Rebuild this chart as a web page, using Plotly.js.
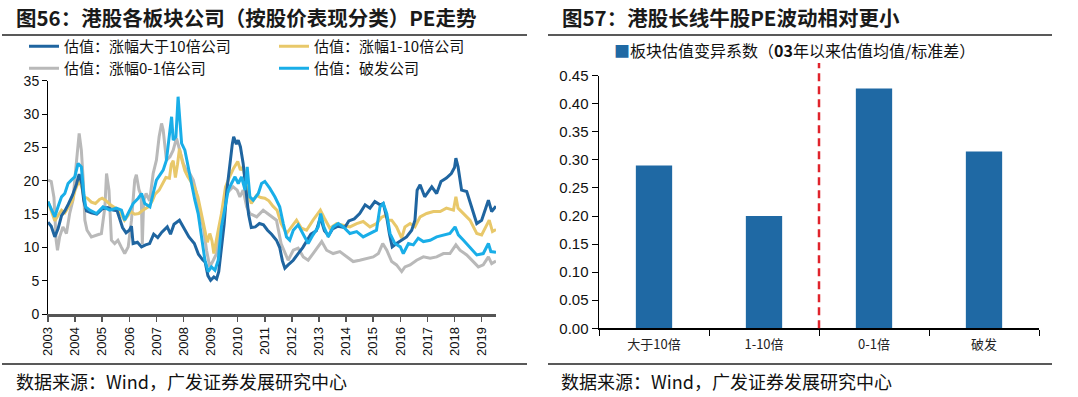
<!DOCTYPE html>
<html><head><meta charset="utf-8">
<script src="https://cdn.plot.ly/plotly-3.0.1.min.js"></script>
<style>html,body{margin:0;padding:0;background:#fff;overflow:hidden}#chart{width:1078px;height:397px}</style>
</head><body><div id="chart"></div>
<script>
// ---- Left chart: PE by stock-performance group (decimal year, PE) ----
const bigX=[2003.00,2003.12,2003.25,2003.37,2003.5,2003.62,2003.75,2003.9,2004.05,2004.15,2004.25,2004.32,2004.42,2004.6,2004.8,2005.0,2005.2,2005.4,2005.55,2005.65,2005.75,2005.88,2006.0,2006.08,2006.14,2006.3,2006.45,2006.6,2006.75,2006.9,2007.05,2007.2,2007.4,2007.52,2007.65,2007.85,2008.0,2008.2,2008.4,2008.55,2008.7,2008.8,2008.9,2009.0,2009.12,2009.22,2009.3,2009.4,2009.5,2009.6,2009.7,2009.8,2009.85,2009.95,2010.02,2010.1,2010.2,2010.3,2010.4,2010.5,2010.65,2010.8,2010.95,2011.1,2011.25,2011.43,2011.55,2011.65,2011.74,2011.86,2012.05,2012.23,2012.4,2012.55,2012.7,2012.9,2013.05,2013.2,2013.35,2013.5,2013.7,2013.95,2014.1,2014.3,2014.5,2014.7,2014.88,2015.06,2015.25,2015.37,2015.5,2015.6,2015.7,2015.86,2016.05,2016.23,2016.42,2016.54,2016.62,2016.73,2016.9,2017.05,2017.16,2017.34,2017.5,2017.7,2017.88,2018.0,2018.05,2018.13,2018.26,2018.45,2018.64,2018.82,2019.0,2019.13,2019.25,2019.37,2019.53];
const bigY=[13.8,13.2,11.6,12.8,14.8,15.5,16.5,17.8,19.5,21.0,19.5,17.0,15.5,15.2,15.0,15.8,16.0,15.6,15.5,14.2,13.0,12.2,12.6,13.2,10.6,10.8,10.1,10.4,10.6,12.0,11.5,12.3,13.1,12.0,13.5,14.1,13.1,11.6,10.6,9.0,8.2,7.8,5.8,5.1,5.6,5.3,6.4,10.0,13.5,18.6,22.5,25.5,26.6,25.5,26.1,25.1,22.6,18.5,15.0,13.0,13.1,13.6,13.4,12.6,12.0,11.1,10.0,8.0,6.9,7.4,8.1,9.1,10.0,11.0,12.0,12.5,14.5,12.5,11.8,12.8,13.2,13.0,14.0,14.3,15.1,16.4,15.9,16.9,16.4,16.6,14.5,12.0,10.1,10.6,11.1,11.6,12.6,14.1,18.6,19.4,17.6,18.5,19.1,18.1,19.9,20.4,21.1,22.0,23.4,22.1,18.6,18.4,16.1,13.6,14.1,15.6,17.1,15.4,16.2];

const midX=[2003.0,2003.12,2003.25,2003.37,2003.5,2003.62,2003.75,2003.9,2004.0,2004.15,2004.25,2004.32,2004.45,2004.6,2004.75,2004.9,2005.0,2005.15,2005.3,2005.45,2005.6,2005.72,2005.82,2005.95,2006.05,2006.2,2006.35,2006.5,2006.7,2006.85,2006.95,2007.1,2007.2,2007.35,2007.48,2007.55,2007.62,2007.7,2007.78,2007.85,2007.95,2008.05,2008.16,2008.3,2008.4,2008.53,2008.65,2008.77,2008.88,2008.97,2009.05,2009.12,2009.2,2009.3,2009.4,2009.55,2009.7,2009.85,2010.0,2010.1,2010.2,2010.35,2010.5,2010.7,2010.85,2011.0,2011.15,2011.3,2011.45,2011.6,2011.8,2011.98,2012.17,2012.35,2012.54,2012.78,2012.95,2013.05,2013.2,2013.4,2013.65,2013.9,2014.14,2014.39,2014.63,2014.88,2015.12,2015.3,2015.45,2015.55,2015.68,2015.86,2016.05,2016.17,2016.36,2016.54,2016.73,2016.97,2017.22,2017.47,2017.7,2017.96,2018.05,2018.13,2018.33,2018.57,2018.82,2019.0,2019.19,2019.28,2019.4,2019.53];
const midY=[16.9,15.5,14.0,14.8,15.6,15.2,16.1,17.0,18.6,20.1,19.0,17.6,17.4,16.8,16.6,17.2,17.4,17.0,16.4,16.0,15.6,14.8,14.1,14.8,15.4,15.0,15.1,15.6,16.1,17.0,18.0,18.6,19.4,20.5,20.4,22.5,23.0,20.5,22.5,24.8,23.0,21.5,20.6,19.8,19.1,17.6,15.1,12.6,10.8,12.1,11.0,9.1,11.1,13.0,15.1,19.1,20.6,21.9,22.9,21.6,22.1,18.6,16.6,17.8,17.5,17.4,17.0,16.2,15.6,13.6,12.1,13.1,14.1,12.9,12.6,14.1,15.0,15.6,14.4,12.9,13.6,13.4,13.1,13.6,13.9,13.1,13.6,14.5,14.8,14.1,14.1,13.1,11.4,13.1,13.6,13.1,14.6,15.1,15.4,15.4,15.9,15.6,17.6,15.9,15.1,14.1,12.1,11.9,13.4,14.1,12.4,12.7];

const lowX=[2003.0,2003.12,2003.22,2003.3,2003.35,2003.43,2003.55,2003.68,2003.8,2003.92,2004.03,2004.1,2004.15,2004.23,2004.3,2004.36,2004.44,2004.6,2004.79,2004.97,2005.1,2005.16,2005.25,2005.34,2005.46,2005.58,2005.7,2005.83,2005.96,2006.08,2006.2,2006.26,2006.36,2006.44,2006.48,2006.53,2006.62,2006.75,2006.88,2007.0,2007.1,2007.19,2007.25,2007.37,2007.5,2007.62,2007.74,2007.86,2007.99,2008.1,2008.23,2008.36,2008.48,2008.6,2008.73,2008.85,2008.97,2009.1,2009.22,2009.34,2009.46,2009.59,2009.71,2009.83,2009.98,2010.08,2010.2,2010.33,2010.45,2010.7,2010.94,2011.18,2011.43,2011.6,2011.74,2011.86,2012.05,2012.23,2012.42,2012.6,2012.78,2012.97,2013.1,2013.28,2013.52,2013.77,2014.02,2014.26,2014.5,2014.75,2015.0,2015.19,2015.35,2015.5,2015.68,2015.86,2016.05,2016.17,2016.36,2016.6,2016.85,2017.1,2017.34,2017.59,2017.83,2018.05,2018.2,2018.45,2018.7,2018.88,2019.06,2019.25,2019.37,2019.53];
const lowY=[20.1,19.9,17.5,11.1,9.6,11.6,13.1,12.1,15.1,17.1,22.0,25.1,27.1,24.6,20.1,14.1,12.6,11.6,11.9,12.1,16.1,21.1,18.6,11.1,10.6,11.1,10.1,9.1,10.1,14.1,20.1,20.9,18.6,17.8,10.5,17.0,18.1,17.0,21.1,23.1,26.6,28.6,27.6,23.1,23.6,24.6,26.4,24.6,22.6,21.6,21.1,20.1,18.1,15.1,13.1,9.6,7.1,8.1,9.1,13.1,16.1,18.1,18.6,19.1,18.6,17.6,18.6,16.1,15.1,14.6,15.6,14.9,14.1,10.6,9.1,8.1,9.6,9.9,8.6,8.1,9.1,10.1,10.9,9.6,9.1,9.4,8.6,7.9,8.1,8.4,8.6,9.1,10.6,9.6,7.9,7.4,6.4,7.1,7.4,8.1,8.6,8.4,8.6,9.1,9.1,10.4,9.6,8.9,7.9,7.1,7.4,8.6,7.6,8.0];

const brkX=[2003.0,2003.12,2003.25,2003.37,2003.5,2003.62,2003.74,2003.86,2003.99,2004.11,2004.23,2004.32,2004.39,2004.54,2004.79,2005.03,2005.28,2005.52,2005.71,2005.83,2005.96,2006.14,2006.33,2006.45,2006.57,2006.76,2006.88,2007.0,2007.25,2007.37,2007.5,2007.56,2007.62,2007.72,2007.8,2007.86,2007.93,2008.05,2008.17,2008.3,2008.42,2008.54,2008.67,2008.79,2008.91,2009.03,2009.16,2009.28,2009.4,2009.53,2009.65,2009.77,2009.9,2010.02,2010.14,2010.27,2010.35,2010.45,2010.57,2010.76,2010.88,2011.0,2011.18,2011.37,2011.55,2011.68,2011.8,2011.92,2012.05,2012.23,2012.42,2012.6,2012.78,2012.97,2013.06,2013.18,2013.34,2013.52,2013.71,2013.9,2014.14,2014.39,2014.63,2014.88,2015.12,2015.25,2015.37,2015.5,2015.62,2015.8,2016.0,2016.11,2016.3,2016.48,2016.66,2016.85,2017.1,2017.34,2017.59,2017.83,2018.02,2018.14,2018.33,2018.57,2018.82,2019.06,2019.25,2019.34,2019.53];
const brkY=[16.9,15.9,14.6,16.1,17.6,18.1,19.6,20.1,20.6,22.6,22.1,18.1,16.1,15.6,15.1,16.1,15.6,15.9,15.6,14.1,15.1,16.6,17.4,18.1,16.6,16.1,18.1,20.1,21.6,23.1,27.6,29.6,26.1,26.6,32.6,29.1,25.6,24.6,22.1,19.1,17.1,15.1,11.1,8.1,6.4,7.1,6.6,8.1,13.1,16.1,18.6,19.6,20.6,19.6,20.6,18.6,22.1,17.6,17.1,18.1,19.6,19.9,18.9,17.6,16.1,13.6,11.6,11.1,12.6,13.4,11.9,10.6,11.9,13.1,15.1,13.1,11.6,13.1,13.6,13.1,12.1,12.4,11.6,12.1,12.6,16.1,16.6,15.1,12.1,10.6,10.1,9.1,10.6,10.4,11.4,10.9,11.1,11.6,11.9,12.1,13.1,11.9,11.1,10.1,8.9,9.1,10.6,9.4,9.3];

const yearTicks=[2003,2004,2005,2006,2007,2008,2009,2010,2011,2012,2013,2014,2015,2016,2017,2018,2019];
const yearLabels=yearTicks.map(String);

// ---- Right chart: coefficient of variation ----
const barCats=['大于10倍','1-10倍','0-1倍','破发'];
const barVals=[0.290,0.200,0.427,0.315];

const W=1078,H=397;
const px=x=>x/W, py=y=>1-y/H;
const CJK='"Noto Sans CJK SC", "Noto Sans", sans-serif';
const NUM='"Liberation Sans", Arial, sans-serif';

const traces=[
 {type:'scatter',mode:'lines',x:lowX,y:lowY,name:'估值：涨幅0-1倍公司',legend:'legend2',line:{color:'#B9B9B9',width:3},xaxis:'x',yaxis:'y'},
 {type:'scatter',mode:'lines',x:midX,y:midY,name:'估值：涨幅1-10倍公司',legend:'legend',line:{color:'#E8C86A',width:3},xaxis:'x',yaxis:'y'},
 {type:'scatter',mode:'lines',x:bigX,y:bigY,name:'估值：涨幅大于10倍公司',legend:'legend',line:{color:'#1F65A0',width:3},xaxis:'x',yaxis:'y'},
 {type:'scatter',mode:'lines',x:brkX,y:brkY,name:'估值：破发公司',legend:'legend2',line:{color:'#19AEE8',width:3},xaxis:'x',yaxis:'y'},
 {type:'bar',x:barCats,y:barVals,name:'板块估值变异系数（03年以来估值均值/标准差）',showlegend:false,marker:{color:'#1F69A4'},width:0.33,xaxis:'x2',yaxis:'y2'}
];

const legBase={orientation:'h',xanchor:'left',yanchor:'middle',entrywidth:205,itemwidth:30,
  font:{family:CJK,size:15,color:'#111'},bgcolor:'rgba(0,0,0,0)',borderwidth:0,tracegroupgap:0};

const layout={
 width:W,height:H,margin:{l:0,r:0,t:0,b:0},paper_bgcolor:'#fff',plot_bgcolor:'#fff',showlegend:true,
 legend:Object.assign({},legBase,{x:px(24),y:py(46.5),traceorder:'reversed'}),
 legend2:Object.assign({},legBase,{x:px(24),y:py(68.5),traceorder:'normal'}),
 xaxis:{domain:[px(48),px(496)],range:[2003,2019.53],tickmode:'array',tickvals:yearTicks,ticktext:yearLabels,tickangle:-90,
   ticks:'outside',ticklen:5,tickwidth:1.5,tickcolor:'#555',showline:true,linecolor:'#555',linewidth:2.5,showgrid:false,zeroline:false,
   tickfont:{family:NUM,size:13,color:'#111'},anchor:'y',fixedrange:true},
 yaxis:{domain:[py(314.3),py(80.7)],range:[0,35],dtick:5,ticks:'outside',ticklen:5,tickcolor:'#000',showline:true,linecolor:'#000',linewidth:1,
   showgrid:false,zeroline:false,tickfont:{family:NUM,size:14,color:'#111'},anchor:'x',fixedrange:true},
 xaxis2:{domain:[px(599),px(1039)],range:[-0.5,3.5],type:'category',ticks:'outside',tickson:'boundaries',ticklen:6,tickcolor:'#000',
   ticklabelstandoff:4,showline:true,linecolor:'#000',linewidth:1.5,showgrid:false,zeroline:false,tickfont:{family:CJK,size:13,color:'#222'},anchor:'y2',fixedrange:true},
 yaxis2:{domain:[py(328.3),py(75.7)],range:[0,0.45],dtick:0.05,tickformat:'.2f',ticks:'outside',ticklen:6,tickcolor:'#000',showline:true,
   linecolor:'#000',linewidth:1.5,showgrid:false,zeroline:false,tickfont:{family:NUM,size:15,color:'#111'},anchor:'x2',fixedrange:true},
 shapes:[
  {type:'line',xref:'paper',yref:'paper',x0:px(2),x1:px(527),y0:py(35),y1:py(35),line:{color:'#222',width:1.5}},
  {type:'line',xref:'paper',yref:'paper',x0:px(548),x1:px(1052),y0:py(35),y1:py(35),line:{color:'#222',width:1.5}},
  {type:'line',xref:'paper',yref:'paper',x0:px(2),x1:px(527),y0:py(364),y1:py(364),line:{color:'#222',width:1.5}},
  {type:'line',xref:'paper',yref:'paper',x0:px(548),x1:px(1052),y0:py(364),y1:py(364),line:{color:'#222',width:1.5}},
  {type:'line',xref:'x2',yref:'paper',x0:1.5,x1:1.5,y0:py(328.3),y1:py(63),line:{color:'#E0242C',width:2.5,dash:'8px,5px'}}
 ],
 annotations:[
  {xref:'paper',yref:'paper',x:px(14),y:py(17),xanchor:'left',yanchor:'middle',showarrow:false,
   text:'图56：港股各板块公司（按股价表现分类）PE走势',font:{family:CJK,size:20.5,color:'#1a1a1a',weight:'bold'}},
  {xref:'paper',yref:'paper',x:px(560),y:py(17),xanchor:'left',yanchor:'middle',showarrow:false,
   text:'图57：港股长线牛股PE波动相对更小',font:{family:CJK,size:20.5,color:'#1a1a1a',weight:'bold'}},
  {xref:'paper',yref:'paper',x:px(14),y:py(381),xanchor:'left',yanchor:'middle',showarrow:false,
   text:'数据来源：Wind，广发证券发展研究中心',font:{family:CJK,size:18,color:'#111'}},
  {xref:'paper',yref:'paper',x:px(559),y:py(381),xanchor:'left',yanchor:'middle',showarrow:false,
   text:'数据来源：Wind，广发证券发展研究中心',font:{family:CJK,size:18,color:'#111'}},
  {xref:'paper',yref:'paper',x:px(612),y:py(50),xanchor:'left',yanchor:'middle',showarrow:false,
   text:'<span style="color:#1F69A4">■</span>板块估值变异系数（<b>03</b>年以来估值均值/标准差）',font:{family:CJK,size:16,color:'#111'}}
 ]
};

Plotly.newPlot('chart',traces,layout,{displayModeBar:false,staticPlot:true});
</script></body></html>
